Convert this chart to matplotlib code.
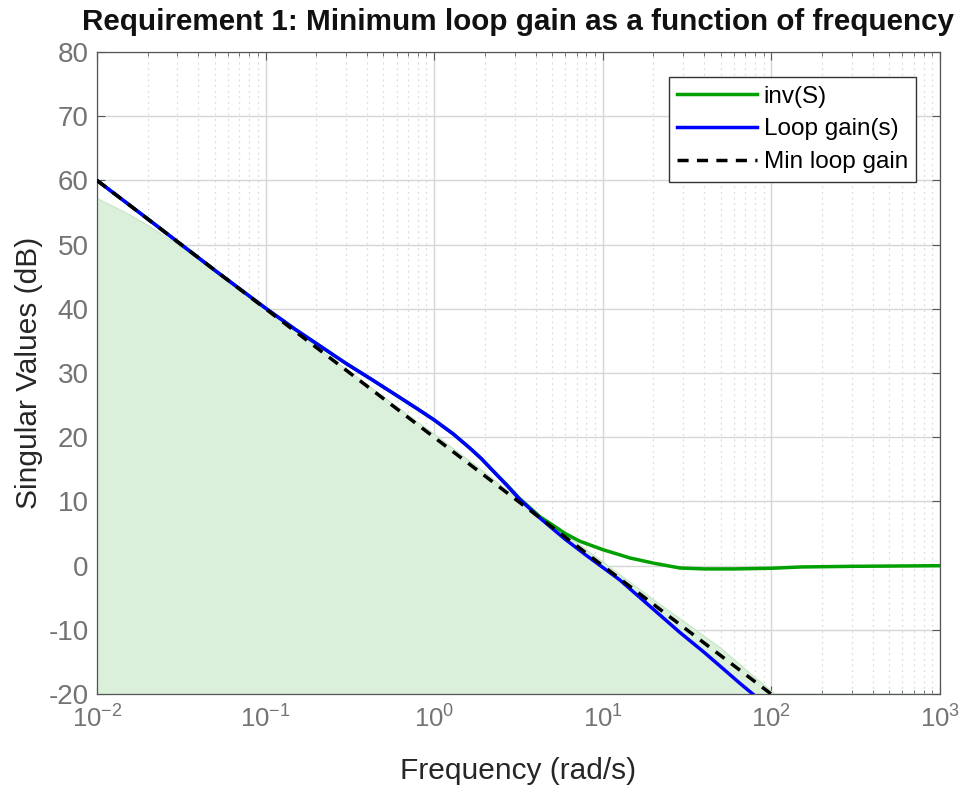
import numpy as np
import matplotlib.pyplot as plt
from matplotlib.ticker import LogLocator, FixedLocator

plt.rcParams['font.family'] = ['Liberation Sans', 'DejaVu Sans']
plt.rcParams['mathtext.fontset'] = 'custom'
plt.rcParams['mathtext.rm'] = 'Liberation Sans'
plt.rcParams['axes.unicode_minus'] = False

# # Data
# loop gain (blue)
w_loop = [0.01, 0.02, 0.05, 0.1, 0.15, 0.2, 0.3, 0.42, 0.6, 0.82, 1.0, 1.3, 1.63,
          1.9, 2.2, 2.7, 3.2, 4.25, 6.0, 8.0, 12.6, 20.0, 28.7, 40.0, 50.0, 65.0, 77.8]
g_loop = [60.0, 54.0, 46.0, 40.1, 36.8, 34.6, 31.5, 29.1, 26.5, 24.2, 22.7, 20.5, 18.3,
          16.7, 14.95, 12.5, 10.4, 7.4, 4.1, 1.6, -2.2, -6.8, -10.4, -13.5, -15.7, -18.3, -20.0]

# inv(S) (green), hidden under the loop gain at low frequency
w_invs = [0.01, 0.02, 0.05, 0.1, 0.15, 0.2, 0.3, 0.42, 0.6, 0.82, 1.0, 1.3, 1.63,
          1.9, 2.2, 2.7, 3.2, 4.25, 5.0, 6.0, 7.33, 10.0, 12.6, 14.5, 20.0, 28.7, 40.0, 60.0,
          100.0, 150.0, 300.0, 1000.0]
g_invs = [60.0, 54.0, 46.0, 40.1, 36.8, 34.6, 31.5, 29.1, 26.5, 24.2, 22.7, 20.5, 18.3,
          16.7, 14.95, 12.6, 10.5, 7.6, 6.4, 5.0, 3.8, 2.5, 1.7, 1.2, 0.4, -0.36, -0.5, -0.5,
          -0.4, -0.2, -0.1, 0.0]

# min loop gain (dashed)
w_min = [0.01, 0.1, 1.0, 10.0, 100.0]
g_min = [60.0, 40.0, 20.0, 0.0, -20.0]

# shaded region boundary
w_fill = [0.01, 0.015, 0.02, 0.03, 0.05, 0.1, 0.3, 1.0, 2.0, 3.2, 5.0, 10.0,
          20.0, 50.0, 80.0, 105.0, 1000.0]
g_fill = [57.2, 54.9, 53.0, 50.0, 45.8, 40.0, 30.6, 20.5, 14.5, 10.2, 6.4, 0.6,
          -5.3, -12.8, -17.4, -20.0, -20.0]

xticks = [1e-2, 1e-1, 1e0, 1e1, 1e2, 1e3]
xtick_labels = ['$\\mathregular{10^{-2}}$', '$\\mathregular{10^{-1}}$', '$\\mathregular{10^{0}}$',
                '$\\mathregular{10^{1}}$', '$\\mathregular{10^{2}}$', '$\\mathregular{10^{3}}$']
yticks = list(range(-20, 81, 10))

fig = plt.figure(figsize=(9.64, 7.87), dpi=100)
ax = fig.add_axes([0.1006, 0.118, 0.8744, 0.816])

ax.fill_between(w_fill, g_fill, -20, color='#daf0da', lw=0, zorder=1)
ax.plot(w_fill, g_fill, color='#c4e6c4', lw=0.8, zorder=1.5)

ax.plot(w_invs, g_invs, color='#00a000', lw=2.5, label='inv(S)', zorder=3)
ax.plot(w_loop, g_loop, color='#0000ff', lw=2.5, label='Loop gain(s)', zorder=4)
ax.plot(w_min, g_min, color='black', lw=2.5, ls=(0, (3.2, 2.4)), label='Min loop gain', zorder=5)

ax.set_xscale('log')
ax.set_xlim(1e-2, 1e3)
ax.set_ylim(-20, 80)
ax.set_xticks(xticks)
ax.set_xticklabels(xtick_labels)
ax.xaxis.set_minor_locator(LogLocator(base=10, subs=np.arange(2, 10), numticks=20))
ax.set_yticks(yticks)
ax.yaxis.set_minor_locator(FixedLocator([]))

ax.grid(True, which='major', color='#d6d6d6', lw=1.0, ls='-', zorder=0)
ax.grid(True, which='minor', axis='x', color='#dcdcdc', lw=0.9, ls=(0, (1.5, 3)), zorder=0)
ax.set_axisbelow(True)

ax.tick_params(which='both', direction='in', top=True, right=True, colors='#555555')
ax.tick_params(which='major', length=6, width=0.8, labelcolor='#737373')
ax.tick_params(axis='y', which='major', labelsize=20, pad=6)
ax.tick_params(axis='x', which='major', labelsize=18.5, pad=8)
ax.tick_params(which='minor', length=3, width=0.6)
for s in ax.spines.values():
    s.set_color('#555555')
    s.set_linewidth(0.9)

ax.set_xlabel('Frequency (rad/s)', fontsize=21.5, color='#262626', labelpad=18)
ax.set_ylabel('Singular Values (dB)', fontsize=21.5, color='#262626', labelpad=4)
ax.set_title('Requirement 1: Minimum loop gain as a function of frequency',
             fontsize=21.3, fontweight='bold', color='#111111', pad=16)

leg = ax.legend(loc='upper right', bbox_to_anchor=(0.972, 0.961), fontsize=17.5,
                frameon=True, fancybox=False, edgecolor='#333333', framealpha=1,
                handlelength=3.3, handletextpad=0.25, borderpad=0.35, labelspacing=0.45,
                borderaxespad=0)
leg.get_frame().set_linewidth(1.0)

fig.savefig('out.png', dpi=100)
